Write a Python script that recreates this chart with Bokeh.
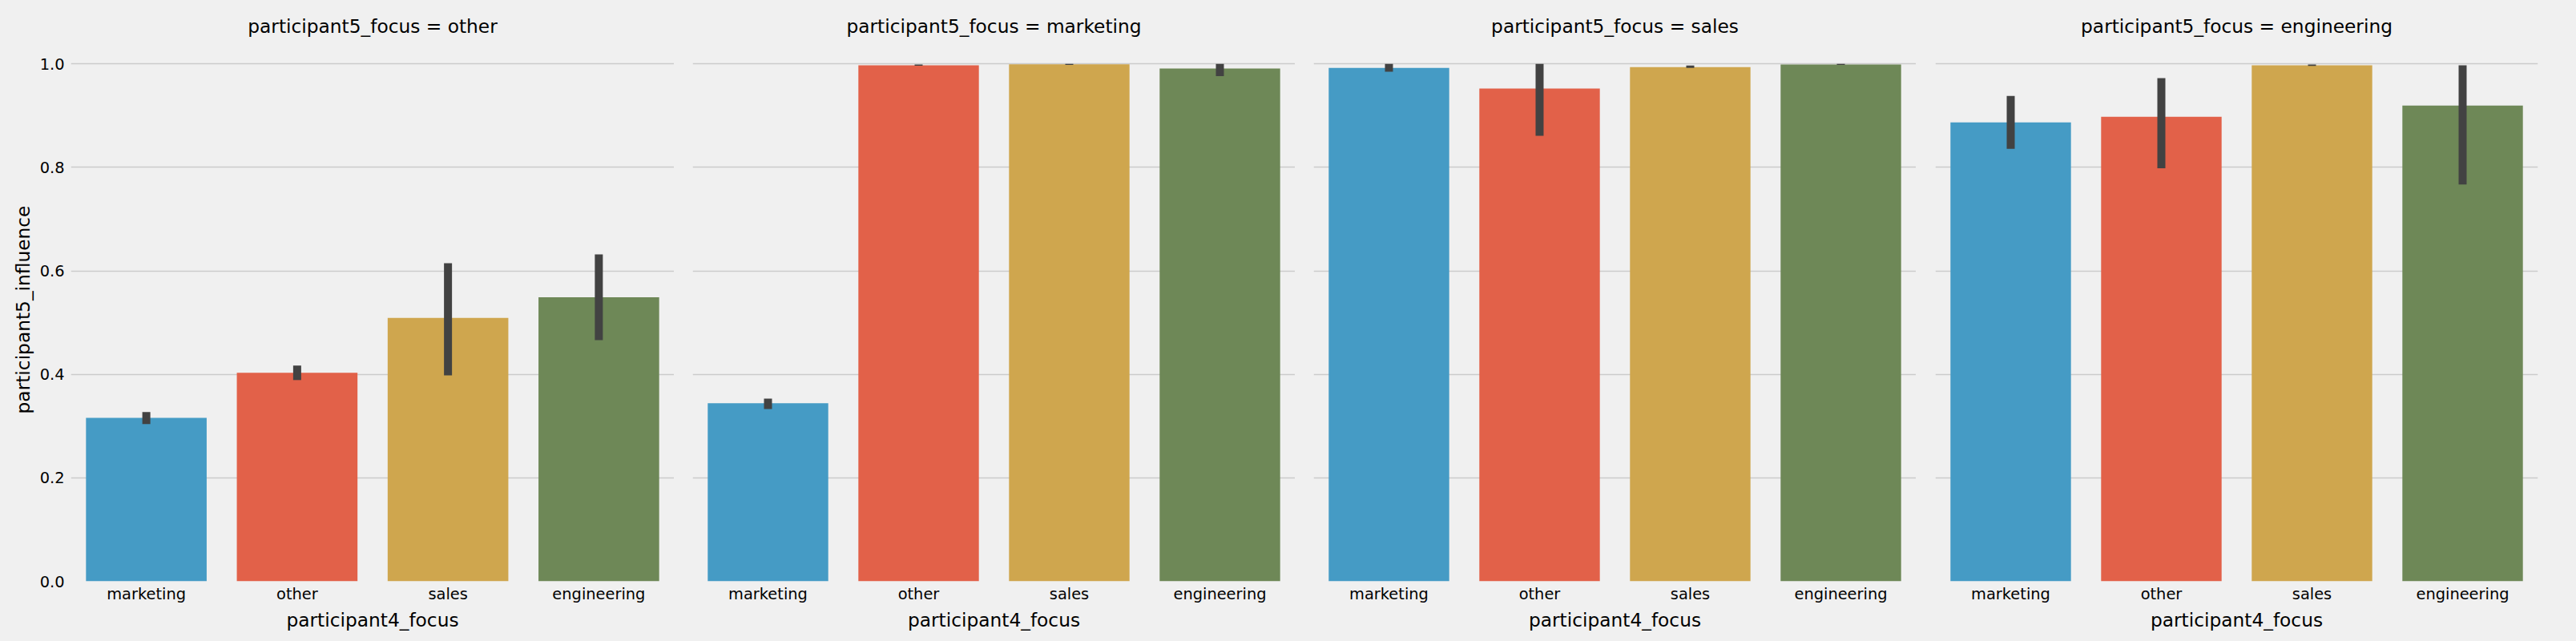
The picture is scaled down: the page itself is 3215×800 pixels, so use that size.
from bokeh.plotting import figure
from bokeh.layouts import row
from bokeh.models import ColumnDataSource, FactorRange, Range1d, FixedTicker, PrintfTickFormatter
from bokeh.embed import file_html
from bokeh.resources import INLINE

# ---- data ----
categories = ["marketing", "other", "sales", "engineering"]
panels = ["other", "marketing", "sales", "engineering"]

mean_other = [0.316, 0.403, 0.509, 0.549]
lo_other = [0.304, 0.389, 0.398, 0.466]
hi_other = [0.327, 0.417, 0.615, 0.632]

mean_marketing = [0.344, 0.9975, 0.9992, 0.991]
lo_marketing = [0.333, 0.9965, 0.998, 0.9765]
hi_marketing = [0.353, 0.999, 1.0, 1.0]

mean_sales = [0.9925, 0.9525, 0.994, 0.999]
lo_sales = [0.985, 0.861, 0.9925, 0.998]
hi_sales = [1.0, 1.0, 0.997, 1.0]

mean_engineering = [0.887, 0.898, 0.9974, 0.9197]
lo_engineering = [0.836, 0.7985, 0.996, 0.767]
hi_engineering = [0.938, 0.9725, 0.999, 0.9974]

y_ticks = [0.0, 0.2, 0.4, 0.6, 0.8, 1.0]
colors = ["#459bc5", "#e26149", "#cfa64e", "#6e8857"]

panel_data = {
    "other": (mean_other, lo_other, hi_other),
    "marketing": (mean_marketing, lo_marketing, hi_marketing),
    "sales": (mean_sales, lo_sales, hi_sales),
    "engineering": (mean_engineering, lo_engineering, hi_engineering),
}

BG = "#f0f0f0"
FONT = "DejaVu Sans"
lefts = [88, 23, 23, 24]
rights = [0, 0, 0, 48]
fwidths = [753, 752, 752, 752]

figs = []
for i, name in enumerate(panels):
    means, los, his = panel_data[name]
    p = figure(x_range=FactorRange(*categories, range_padding=0),
               y_range=Range1d(0, 1.05),
               frame_width=fwidths[i], frame_height=678,
               min_border_left=lefts[i], min_border_right=rights[i],
               min_border_top=47, min_border_bottom=75,
               output_backend="svg", toolbar_location=None,
               title="participant5_focus = " + name,
               styles={"background-color": BG})
    p.background_fill_color = BG
    p.border_fill_color = BG
    p.outline_line_color = None

    src = ColumnDataSource(dict(cat=categories, top=means, lo=los, hi=his, color=colors))
    p.vbar(x="cat", top="top", bottom=0, width=0.8, fill_color="color", line_color=None, source=src)
    p.segment(x0="cat", y0="lo", x1="cat", y1="hi", line_color="#424242", line_width=10, source=src)

    p.title.text_font = FONT
    p.title.text_font_size = "23.3px"
    p.title.text_font_style = "normal"
    p.title.align = "center"
    p.title.text_color = "#000000"
    p.title.standoff = 4

    p.xgrid.grid_line_color = None
    p.ygrid.grid_line_color = "#cbcbcb"
    p.ygrid.grid_line_width = 1.5
    p.yaxis.ticker = FixedTicker(ticks=y_ticks)
    p.yaxis.formatter = PrintfTickFormatter(format="%.1f")

    for ax in (p.xaxis[0], p.yaxis[0]):
        ax.axis_line_color = None
        ax.major_tick_line_color = None
        ax.minor_tick_line_color = None
        ax.major_tick_out = 0
        ax.major_tick_in = 0
        ax.major_label_text_font = FONT
        ax.major_label_text_font_size = "19.4px"
        ax.major_label_text_color = "#000000"
        ax.axis_label_text_font = FONT
        ax.axis_label_text_font_size = "23.3px"
        ax.axis_label_text_font_style = "normal"
        ax.axis_label_text_color = "#000000"

    p.xaxis.axis_label = "participant4_focus"
    p.xaxis.major_label_standoff = 4
    p.xaxis.axis_label_standoff = 4
    if i == 0:
        p.yaxis.axis_label = "participant5_influence"
        p.yaxis.major_label_standoff = 8
        p.yaxis.axis_label_standoff = 5
    else:
        p.yaxis.visible = False
    figs.append(p)

layout = row(*figs, spacing=0, styles={"background-color": BG})
open("out.html", "w").write(file_html(layout, INLINE))
